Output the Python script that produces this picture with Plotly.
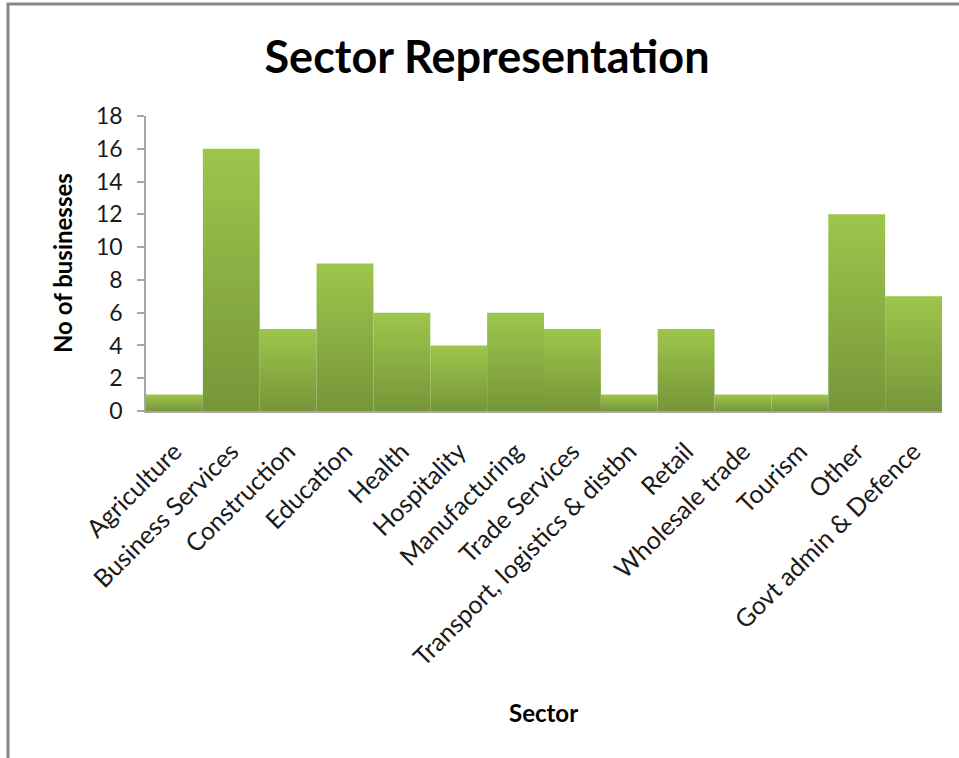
import plotly.graph_objects as go

# Sector counts
sectors = [
    "Agriculture", "Business Services", "Construction", "Education", "Health",
    "Hospitality", "Manufacturing", "Trade Services", "Transport, logistics & distbn",
    "Retail", "Wholesale trade", "Tourism", "Other", "Govt admin & Defence",
]
businesses = [1, 16, 5, 9, 6, 4, 6, 5, 1, 5, 1, 1, 12, 7]
y_ticks = [0, 2, 4, 6, 8, 10, 12, 14, 16, 18]

W, H = 959, 758
ML, MR, MT, MB = 146, 17, 116, 347
FONT = "Lato"
LIGHT, DARK = "#9dc64b", "#76963a"

fig = go.Figure()

# each column is a filled rectangle with a top-to-bottom green gradient
for i, v in enumerate(businesses):
    fig.add_trace(go.Scatter(
        x=[i - 0.5, i - 0.5, i + 0.5, i + 0.5, i - 0.5],
        y=[0, v, v, 0, 0],
        mode="lines",
        line=dict(width=0),
        fill="toself",
        fillgradient=dict(type="vertical", start=v, stop=0,
                          colorscale=[[0, LIGHT], [1, DARK]]),
        hoverinfo="text",
        text=f"{sectors[i]}: {v}",
        showlegend=False,
    ))

pw = W - ML - MR
ph = H - MT - MB


def px_x(x):
    return (x - ML) / pw


def px_y(y):
    return (H - MB - y) / ph


fig.update_layout(
    width=W, height=H,
    margin=dict(l=ML, r=MR, t=MT, b=MB),
    paper_bgcolor="white", plot_bgcolor="white",
    font=dict(family=FONT, color="#1a1a1a"),
    title=dict(text="<b>Sector Representation</b>", x=487 / W, xanchor="center",
               y=1 - 57 / H, yanchor="middle",
               font=dict(family=FONT, size=45, color="#000000")),
    xaxis=dict(
        range=[-0.5, len(sectors) - 0.5],
        tickmode="array", tickvals=list(range(len(sectors))), ticktext=sectors,
        tickangle=-45, tickfont=dict(size=25, family=FONT, color="#1a1a1a"),
        showgrid=False, zeroline=False,
        showline=True, linecolor="#a6a6a6", linewidth=2,
        ticks="outside", ticklen=14, tickcolor="rgba(0,0,0,0)",
        fixedrange=True,
    ),
    yaxis=dict(
        range=[0, 18], tickmode="array", tickvals=y_ticks,
        tickfont=dict(size=23, family=FONT, color="#1a1a1a"),
        showgrid=False, zeroline=False,
        showline=True, linecolor="#a6a6a6", linewidth=1.5,
        ticks="outside", ticklen=7, tickcolor="#a6a6a6", tickwidth=1.5,
        ticklabelstandoff=10,
        fixedrange=True,
    ),
    annotations=[
        dict(text="<b>No of businesses</b>", textangle=-90,
             xref="paper", yref="paper", x=px_x(62), y=px_y(263),
             xanchor="center", yanchor="middle", showarrow=False,
             font=dict(family=FONT, size=24, color="#000000")),
        dict(text="<b>Sector</b>",
             xref="paper", yref="paper", x=px_x(543), y=px_y(712),
             xanchor="center", yanchor="middle", showarrow=False,
             font=dict(family=FONT, size=24, color="#000000")),
    ],
    shapes=[
        # chart frame (left and top edges)
        dict(type="path", xref="paper", yref="paper",
             path=f"M {px_x(8)} {px_y(770)} L {px_x(8)} {px_y(4)} L {px_x(970)} {px_y(4)}",
             line=dict(color="#878787", width=3)),
    ],
)

fig.write_html("out.html")
